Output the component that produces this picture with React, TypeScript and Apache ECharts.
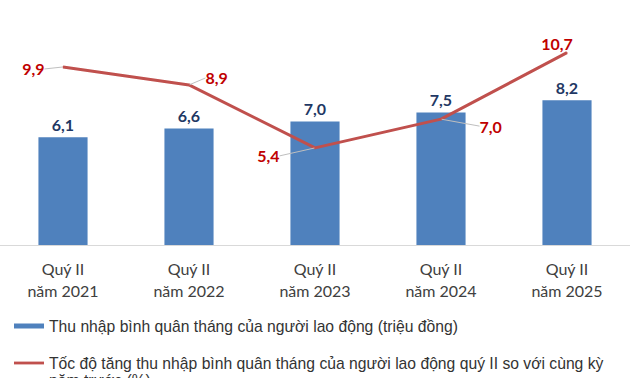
import React, { useEffect, useRef } from "react";
import * as echarts from "echarts";

const categories = ["Quý II\nnăm 2021", "Quý II\nnăm 2022", "Quý II\nnăm 2023", "Quý II\nnăm 2024", "Quý II\nnăm 2025"];
const incomeValues = [6.1, 6.6, 7.0, 7.5, 8.2];
const growthValues = [9.9, 8.9, 5.4, 7.0, 10.7];
const incomeName = "Thu nhập bình quân tháng của người lao động (triệu đồng)";
const growthName = "Tốc độ tăng thu nhập bình quân tháng của người lao động quý II so với cùng kỳ";
const growthNameCont = "năm trước (%)";

const growthLabelPos = ["left", "right", "left", "right", "top"];
const growthLabelShift = [
  [-13, 2],
  [11, -7],
  [-30, 8],
  [33, 7],
  [-10, 4],
];

const fmt = (v: number) => v.toFixed(1).replace(".", ",");

export default function App() {
  const ref = useRef<HTMLDivElement>(null);
  useEffect(() => {
    if (!ref.current) return;
    const chart = echarts.init(ref.current, undefined, { renderer: "svg" });
    const legendFont = { fontFamily: "Liberation Sans, Arial", fontSize: 15.7, color: "#333333" };
    chart.setOption({
      animation: false,
      backgroundColor: "#ffffff",
      grid: { left: 0, right: -6, top: 31, bottom: 133, containLabel: false },
      legend: {
        orient: "vertical",
        left: 14,
        top: 317,
        padding: 0,
        itemWidth: 30,
        itemHeight: 5,
        itemGap: 19,
        textStyle: { ...legendFont, lineHeight: 18 },
        data: [
          { name: incomeName, icon: "rect" },
          { name: growthName, icon: "path://M0,0H32V3H0Z" },
        ],
      },
      graphic: [
        {
          type: "text",
          left: 49,
          top: 372,
          style: { text: growthNameCont, fontFamily: legendFont.fontFamily, fontSize: legendFont.fontSize, fill: legendFont.color },
        },
      ],
      xAxis: {
        type: "category",
        data: categories,
        axisLine: { show: true, lineStyle: { color: "#d9d9d9", width: 1 } },
        axisTick: { show: false },
        axisLabel: {
          margin: 12,
          fontFamily: "Lato",
          fontSize: 16,
          lineHeight: 22,
          color: "#404040",
          interval: 0,
        },
      },
      yAxis: [
        { type: "value", min: 0, max: 12.12, show: false, splitLine: { show: false } },
        { type: "value", min: 0, max: 11.9, show: false, splitLine: { show: false } },
      ],
      series: [
        {
          name: incomeName,
          type: "bar",
          yAxisIndex: 0,
          data: incomeValues,
          barCategoryGap: "61%",
          itemStyle: { color: "#4F81BD" },
          label: {
            show: true,
            position: "top",
            distance: 5,
            formatter: (p: any) => fmt(p.value),
            fontFamily: "Lato",
            fontWeight: "bold",
            fontSize: 16,
            color: "#1F3864",
          },
        },
        {
          name: growthName,
          type: "line",
          yAxisIndex: 1,
          symbol: "circle",
          symbolSize: 1,
          itemStyle: { color: "#C0504D" },
          lineStyle: { color: "#C0504D", width: 3 },
          data: growthValues.map((v, i) => ({
            value: v,
            label: { position: growthLabelPos[i] },
            labelLine: { show: i !== 4 },
          })),
          label: {
            show: true,
            distance: 5,
            formatter: (p: any) => fmt(p.value),
            fontFamily: "Lato",
            fontWeight: "bold",
            fontSize: 16,
            color: "#C00000",
          },
          labelLine: { show: true, lineStyle: { color: "#bfbfbf", width: 1 } },
          labelLayout: (p: any) => ({ dx: growthLabelShift[p.dataIndex][0], dy: growthLabelShift[p.dataIndex][1] }),
          z: 3,
        },
      ],
    });
    return () => chart.dispose();
  }, []);
  return <div ref={ref} style={{ width: 630, height: 378, position: "absolute", left: 0, top: 0 }} />;
}
